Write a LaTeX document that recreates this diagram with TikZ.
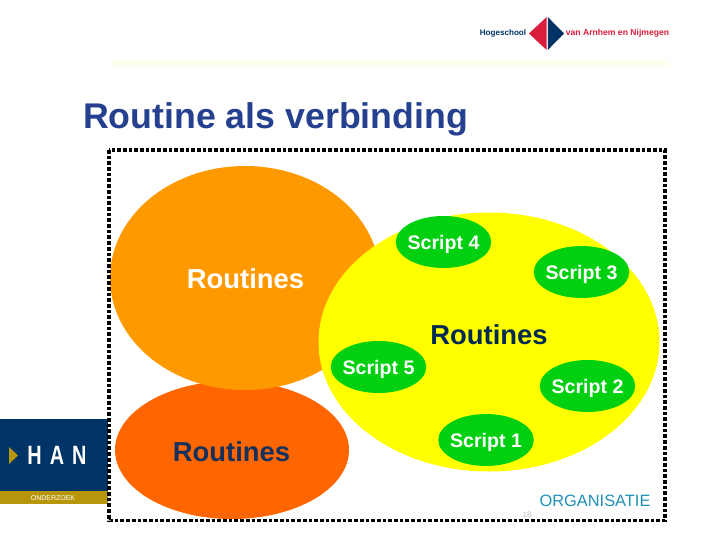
\documentclass[tikz,border=0pt]{standalone}
\usepackage{fontspec}
\usepackage{graphicx}
\setmainfont{Liberation Sans}
\usetikzlibrary{shapes.geometric}
\definecolor{hannavy}{HTML}{003366}
\definecolor{hangold}{HTML}{B8960C}
\definecolor{hanred}{HTML}{D81E3C}
\definecolor{titleblue}{HTML}{24408E}
\definecolor{routinedark}{HTML}{14305C}
\definecolor{scriptgreen}{HTML}{00D010}
\definecolor{lightorange}{HTML}{FF9900}
\definecolor{darkorange}{HTML}{FF6600}
\definecolor{pureyellow}{HTML}{FFFF00}
\definecolor{paleyellow}{HTML}{FFFFF0}
\definecolor{orgblue}{HTML}{2090B8}
\tikzset{
  blob/.style={ellipse,inner sep=0pt},
  routinetext/.style={inner sep=0pt,text depth=0pt,text=routinedark,font=\fontsize{27.4}{28}\bfseries\selectfont},
  scriptbox/.style={ellipse,fill=scriptgreen,minimum width=95.5pt,minimum height=52pt,inner ysep=0pt,inner xsep=-3pt,
    text depth=0pt,text=white,font=\fontsize{19.6}{20}\bfseries\selectfont},
  frameline/.style={line width=3.7pt,dash pattern=on 3.7pt off 2pt}
}
\begin{document}
\begin{tikzpicture}[x=1pt,y=-1pt]
    \useasboundingbox (0,0) rectangle (720,540);
    \path [fill=white] (0,0) rectangle (720,540);
    % header
    \path [fill=paleyellow] (112,60) rectangle (670,67);
    \path [fill=hanred] (546.6,17) -- (529,33.5) -- (546.6,50) -- cycle;
    \path [fill=hannavy] (547.8,17) -- (564,33.5) -- (547.8,50) -- cycle;
    \node (hogeschool) [inner sep=0pt,text=hannavy,font=\fontsize{8.1}{9}\bfseries\selectfont] at (503,33.5) {Hogeschool};
    \node (arnhem) [inner sep=0pt,text=hanred,font=\fontsize{8.6}{9}\bfseries\selectfont] at (617.5,33.5) {van Arnhem en Nijmegen};
    \node (title) [anchor=base west,inner sep=0pt,text=titleblue,font=\fontsize{35.7}{36}\bfseries\selectfont] at (83,128.5) {Routine als verbinding};
    % han block
    \path [fill=hannavy] (0,419) rectangle (108,491);
    \path [fill=hangold] (0,491) rectangle (108,504);
    \path [fill=hangold] (9,447) -- (18,455.5) -- (9,464) -- cycle;
    \node (han) [inner sep=0pt,text=white,font=\fontsize{26.5}{27}\bfseries\selectfont] at (57,455.5)
      {\scalebox{0.75}[1]{H}\hspace{8pt}\scalebox{0.75}[1]{A}\hspace{8pt}\scalebox{0.75}[1]{N}};
    \node (onderzoek) [inner sep=0pt,text=white,font=\fontsize{7}{7}\selectfont] at (53,498) {ONDERZOEK};
    % ellipses
    \node (dark) [blob,fill=darkorange,minimum width=234pt,minimum height=138pt] at (232,450) {};
    \node (light) [blob,fill=lightorange,minimum width=270pt,minimum height=224pt] at (245,278) {};
    \node (yel) [blob,fill=pureyellow,minimum width=341pt,minimum height=259pt] at (489,342) {};
    \node (darktext) [routinetext] at (231.5,451.5) {Routines};
    \node (lighttext) [routinetext,text=white] at (245.5,279) {Routines};
    \node (yeltext) [routinetext,text=hannavy!80!black] at (489,335) {Routines};
    \node (s4) [scriptbox] at (443.5,242) {Script 4};
    \node (s3) [scriptbox] at (581.5,272) {Script 3};
    \node (s5) [scriptbox] at (378.5,367) {Script 5};
    \node (s2) [scriptbox] at (587.5,386) {Script 2};
    \node (s1) [scriptbox] at (486,440) {Script 1};
    % frame and footer
    \draw [frameline] (109,150) rectangle (665,520.5);
    \node (org) [inner sep=0pt,text=orgblue,font=\fontsize{16.4}{17}\selectfont] at (595,501) {ORGANISATIE};
    \node (page) [inner sep=0pt,text=black!25,font=\fontsize{8}{8}\selectfont] at (527,515) {18};
\end{tikzpicture}
\end{document}
